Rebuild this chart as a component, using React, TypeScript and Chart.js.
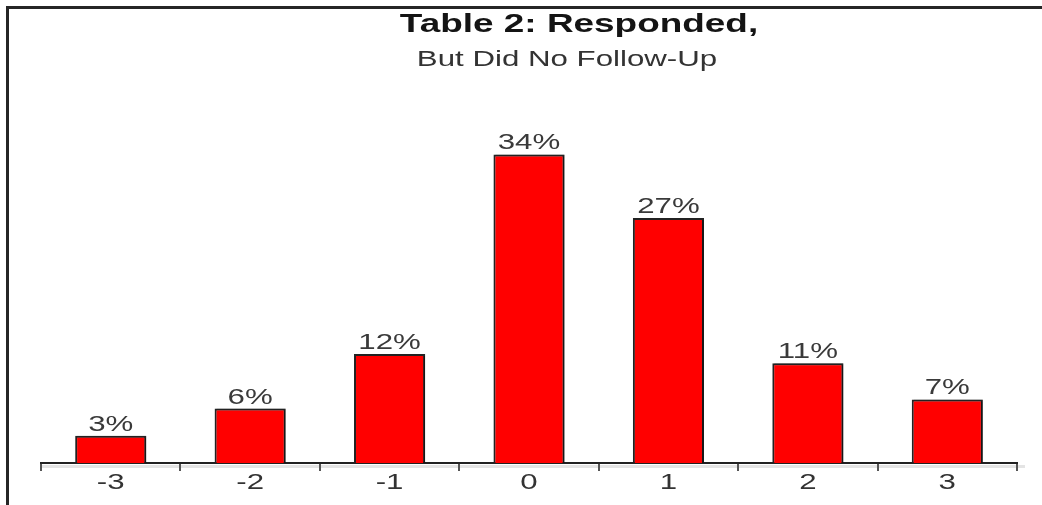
import { useEffect, useRef } from "react";
import { Chart, registerables } from "chart.js";

Chart.register(...registerables);

// Response scale and the share of respondents at each point
const categories = ["-3", "-2", "-1", "0", "1", "2", "3"];
const shares = [3, 6, 12, 34, 27, 11, 7];
const titleText = "Table 2: Responded,";
const subtitleText = "But Did No Follow-Up";

const FAMILY = '"Liberation Sans", Arial, Helvetica, sans-serif';
// Text in this graphic is set wide; glyphs are scaled horizontally by this factor
const STRETCH = 1.42;

function wideText(
  ctx: CanvasRenderingContext2D,
  text: string,
  x: number,
  y: number,
  font: string,
  color: string
) {
  ctx.save();
  ctx.translate(x, y);
  ctx.scale(STRETCH, 1);
  ctx.font = font;
  ctx.fillStyle = color;
  ctx.textAlign = "center";
  ctx.textBaseline = "alphabetic";
  ctx.fillText(text, 0, 0);
  ctx.restore();
}

const decorPlugin = {
  id: "decor",
  beforeDraw(chart: any) {
    const ctx: CanvasRenderingContext2D = chart.ctx;
    const { left, right, bottom } = chart.chartArea;
    ctx.save();
    ctx.fillStyle = "#ffffff";
    ctx.fillRect(0, 0, chart.width, chart.height);
    // frame along the top and left edges
    ctx.fillStyle = "#262626";
    ctx.fillRect(6, 6, chart.width - 6, 3);
    ctx.fillRect(6, 6, 3, chart.height - 6);
    // soft band under the baseline
    ctx.fillStyle = "#e4e4e4";
    ctx.fillRect(left, bottom + 2, right - left + 8, 3);
    ctx.restore();

    wideText(ctx, titleText, 579, 32, `bold 26px ${FAMILY}`, "#141414");
    wideText(ctx, subtitleText, 567, 66, `22px ${FAMILY}`, "#333333");
  },
  beforeDatasetsDraw(chart: any) {
    const ctx: CanvasRenderingContext2D = chart.ctx;
    ctx.save();
    ctx.shadowColor = "rgba(0,0,0,0.35)";
    ctx.shadowOffsetX = 2;
    ctx.shadowOffsetY = 0;
    ctx.shadowBlur = 0;
  },
  afterDatasetsDraw(chart: any) {
    const ctx: CanvasRenderingContext2D = chart.ctx;
    ctx.restore();
    const meta = chart.getDatasetMeta(0);
    meta.data.forEach((bar: any, i: number) => {
      wideText(ctx, `${shares[i]}%`, bar.x, bar.y - 5, `22px ${FAMILY}`, "#3a3a3a");
    });
    const xScale = chart.scales.x;
    const labelY = chart.chartArea.bottom + 26;
    categories.forEach((c, i) => {
      wideText(ctx, c, xScale.getPixelForValue(i), labelY, `22px ${FAMILY}`, "#333333");
    });
  },
};

export default function App() {
  const canvasRef = useRef<HTMLCanvasElement | null>(null);

  useEffect(() => {
    const canvas = canvasRef.current;
    if (!canvas) return;
    const chart = new Chart(canvas, {
      type: "bar",
      data: {
        labels: categories,
        datasets: [
          {
            data: shares,
            backgroundColor: "#ff0000",
            borderColor: "#222222",
            borderWidth: 2,
            borderSkipped: "bottom",
            barPercentage: 0.51,
            categoryPercentage: 1,
          },
        ],
      },
      options: {
        responsive: false,
        animation: false,
        layout: { padding: { top: 100, left: 41, right: 25, bottom: 0 } },
        plugins: {
          legend: { display: false },
          title: { display: false },
          tooltip: { enabled: false },
        },
        scales: {
          x: {
            offset: true,
            grid: {
              display: true,
              offset: true,
              drawOnChartArea: false,
              drawTicks: true,
              tickLength: 8,
              color: "#555555",
              lineWidth: 2,
            },
            border: { display: true, color: "#222222", width: 2 },
            ticks: { display: false },
            afterFit: (s: any) => {
              s.height = 42;
            },
          },
          y: {
            display: false,
            min: 0,
            max: 40,
          },
        },
      },
      plugins: [decorPlugin],
    });
    return () => chart.destroy();
  }, []);

  return (
    <div style={{ position: "absolute", left: 0, top: 0, width: 1042, height: 505 }}>
      <canvas ref={canvasRef} width={1042} height={505} style={{ display: "block" }} />
    </div>
  );
}
